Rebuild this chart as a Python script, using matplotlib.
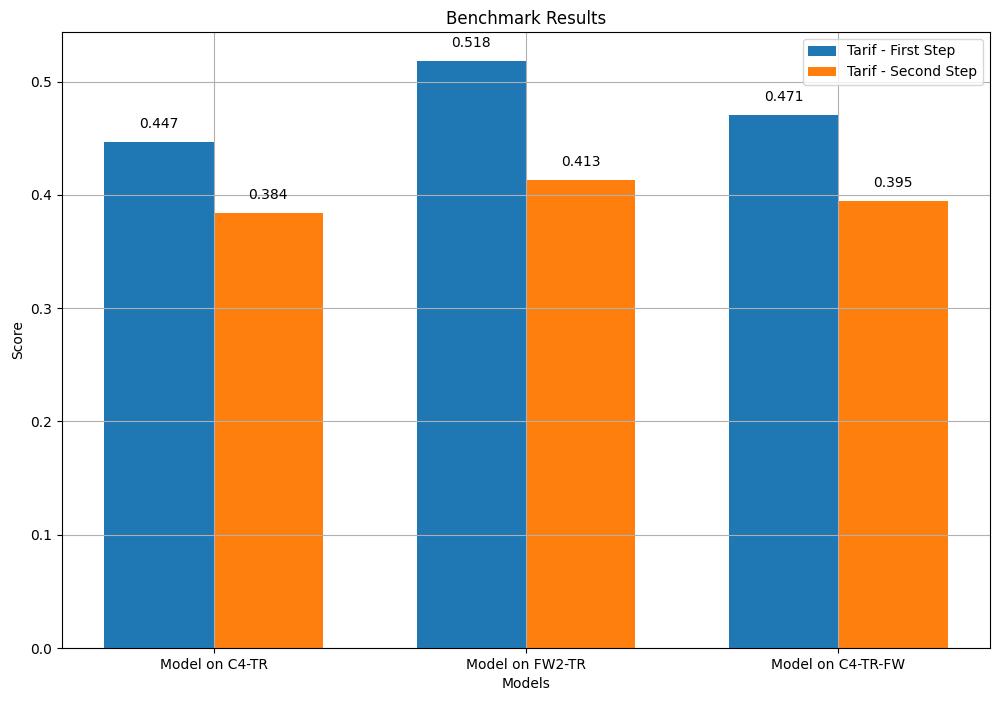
import numpy as np
import matplotlib.pyplot as plt

# Data
models = ['Model on C4-TR', 'Model on FW2-TR', 'Model on C4-TR-FW']
first_step = [0.447, 0.518, 0.471]
second_step = [0.384, 0.413, 0.395]

x = np.arange(len(models))
width = 0.35

fig, ax = plt.subplots(figsize=(10.01, 7.01), dpi=100)
fig.subplots_adjust(left=62/1001, right=990/1001, top=1-32/701, bottom=1-648/701)

bars1 = ax.bar(x - width/2, first_step, width, label='Tarif - First Step')
bars2 = ax.bar(x + width/2, second_step, width, label='Tarif - Second Step')

ax.set_xlabel('Models')
ax.set_ylabel('Score')
ax.set_title('Benchmark Results')
ax.set_xticks(x)
ax.set_xticklabels(models)
ax.legend()

# Valores acima das barras
for bars in (bars1, bars2):
    for bar in bars:
        h = bar.get_height()
        ax.annotate(f'{h:.3f}', xy=(bar.get_x() + bar.get_width()/2, h),
                    xytext=(0, 10), textcoords='offset points', ha='center')

ax.grid(True)
fig.savefig('out.png')
